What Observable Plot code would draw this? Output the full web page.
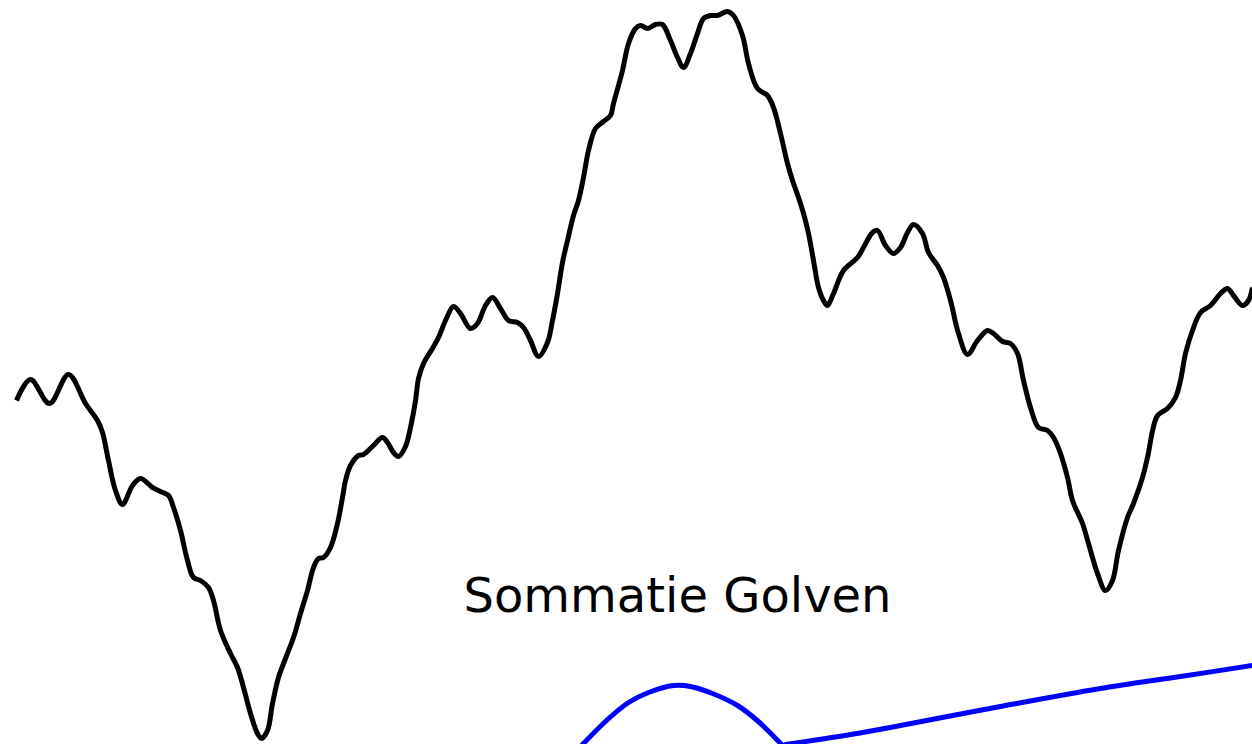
<!DOCTYPE html>
<html>
<head>
<meta charset="utf-8">
<script src="https://cdn.jsdelivr.net/npm/d3@7"></script>
<script src="https://cdn.jsdelivr.net/npm/@observablehq/plot@0.6"></script>
<style>
  html, body { margin: 0; padding: 0; background: #fff; }
</style>
</head>
<body>
<div id="chart"></div>
<script>
// Sum of waves (black) – positions (x: time-like, y: depth from top)
const sumX = [16,30,49,68,85,97,102,108,115,122,132,140,152,160,168,173,180,187,193,200,208,213,220,230,237,243,250,257,261,267,272,278,285,293,300,307,313,318,
  323,330,337,342,345,350,358,363,373,382,387,393,398,405,410,415,418,423,432,438,445,453,460,470,477,485,492,500,508,517,523,530,538,
  547,552,557,562,567,573,578,583,588,595,603,610,613,622,628,635,640,647,655,662,670,677,683,690,697,703,710,717,727,733,742,748,757,767,773,780,
  787,792,798,803,808,813,818,823,827,833,843,857,863,872,877,885,893,900,907,913,922,928,937,943,950,958,967,977,987,993,1002,1010,1017,1023,1030,1038,1047,1053,
  1060,1067,1072,1082,1088,1097,1105,1112,1118,1127,1133,1142,1147,1157,1167,1175,1180,1185,1192,1200,1210,1220,1227,1233,1242,1248,1252];
const sumY = [400,379,403,374,403,420,432,460,490,504,485,478,487,491,495,507,530,560,577,580,587,600,630,653,667,687,713,733,738,730,703,677,658,637,613,590,567,558,
  557,547,523,497,480,465,455,454,445,437,442,452,456,446,427,400,378,363,348,337,320,306,313,328,323,305,297,308,320,322,327,340,356,
  342,320,293,262,240,215,200,177,150,128,121,115,103,70,43,28,25,28,24,24,40,57,67,53,33,18,15,15,11,15,35,63,88,95,107,133,
  163,180,197,213,233,260,287,300,305,293,270,257,247,232,230,245,253,247,232,224,233,252,265,277,300,333,354,340,330,333,341,343,353,380,407,427,430,437,
  453,477,500,523,543,573,590,580,550,517,503,477,457,415,408,397,380,353,330,312,305,293,288,295,305,300,287];

// Single wave (blue) – visible part near the bottom edge
const waveX = [582,606,628,648,673,690,712,737,759,781];
const waveY = [744,720,702,692,685,686,693,705,722,744];
const driftX = [785,850,900,1000,1100,1180,1252];
const driftY = [744,734,725,706,688,676,665];

const title = "Sommatie Golven";

const sum = sumX.map((x, i) => ({x, y: sumY[i]}));
const wave = waveX.map((x, i) => ({x, y: waveY[i]}));
const drift = driftX.map((x, i) => ({x, y: driftY[i]}));

const chart = Plot.plot({
  width: 1252,
  height: 744,
  margin: 0,
  style: {background: "#fff", fontFamily: "DejaVu Sans"},
  x: {domain: [0, 1252], axis: null},
  y: {domain: [0, 744], range: [0, 744], axis: null},
  marks: [
    Plot.line(wave, {x: "x", y: "y", stroke: "#0000ff", strokeWidth: 5, curve: "catmull-rom"}),
    Plot.line(drift, {x: "x", y: "y", stroke: "#0000ff", strokeWidth: 5, curve: "catmull-rom"}),
    Plot.line(sum, {x: "x", y: "y", stroke: "#000", strokeWidth: 5, curve: "catmull-rom", strokeLinejoin: "round", strokeLinecap: "butt"}),
    Plot.text([title], {frameAnchor: "bottom", text: d => d, dx: 51, dy: -133, fontSize: 48, fill: "#000", fontFamily: "DejaVu Sans"})
  ]
});
document.getElementById("chart").appendChild(chart);
</script>
</body>
</html>
